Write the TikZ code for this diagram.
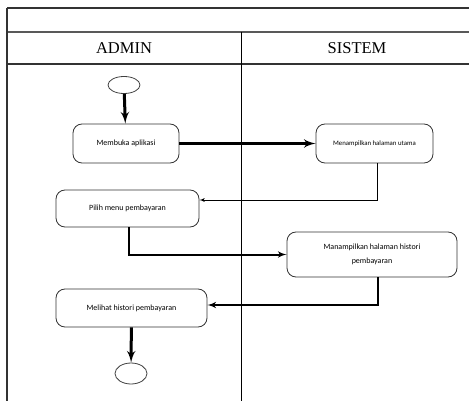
\documentclass[tikz,border=0pt]{standalone}
\usepackage{fontspec}
\setmainfont{Liberation Serif}
\newfontfamily\boxfont{Carlito}
\usetikzlibrary{arrows,shapes.geometric}

\begin{document}
\begin{tikzpicture}[x=1pt,y=-1pt]
	\tikzset{lane/.style = {draw=black!80, line width=1.2pt}}
	\tikzset{head/.style = {font=\fontsize{16.5}{18}\selectfont}}
	\tikzset{act/.style = {shape=rectangle, rounded corners=9pt, draw=black!80, line width=0.8pt, align=center, font=\boxfont\fontsize{8}{10}\selectfont}}
	\tikzset{term/.style = {shape=ellipse, draw=black!75, line width=0.8pt, inner sep=0pt}}
	\tikzset{edge/.style = {->, > = latex', line width=1pt}}
	\useasboundingbox (0,0) rectangle (469,401);
	% swimlane frame
	\draw[lane] (7,8) -- (469,8);
	\draw[lane, draw=black!65, line width=1.5pt] (7,32) -- (469,32);
	\draw[lane] (7,64) -- (469,64);
	\draw[lane] (7,8) -- (7,401);
	\draw[black, line width=0.8pt] (241,32) -- (241,401);
	\node[head] (admin) at (124,48) {ADMIN};
	\node[head] (sistem) at (357,48) {SISTEM};
	% activities
	\node[term, minimum width=32pt, minimum height=17pt] (start) at (124,85) {};
	\node[act, minimum width=106pt, minimum height=39pt] (buka) at (126,143.5) {Membuka aplikasi};
	\node[act, minimum width=117pt, minimum height=39pt, font=\boxfont\fontsize{6.8}{8}\selectfont] (utama) at (374.5,143.5) {Menampilkan halaman utama};
	\node[act, minimum width=143pt, minimum height=37pt] (pilih) at (127.5,208.5) {Pilih menu pembayaran};
	\node[act, minimum width=170pt, minimum height=45pt, font=\boxfont\fontsize{8}{14}\selectfont] (histori) at (372,254.5) {Manampilkan halaman histori\\pembayaran};
	\node[act, minimum width=151pt, minimum height=38pt] (lihat) at (131.5,308) {Melihat histori pembayaran};
	\node[term, minimum width=32pt, minimum height=21pt] (end) at (131,373.5) {};
	% flows
	\draw[edge, line width=3pt] (start) -- (buka);
	\draw[edge, line width=3pt] (buka) -- (utama);
	\draw[edge, line width=0.8pt] ([xshift=2.5pt]utama.south) |- ([yshift=8.5pt]pilih.east);
	\draw[edge, line width=2pt] ([xshift=1.5pt]pilih.south) |- (histori.west);
	\draw[edge, line width=2pt] ([xshift=6pt]histori.south) |- ([yshift=3pt]lihat.east);
	\draw[edge, line width=3pt] (lihat) -- (end);
\end{tikzpicture}
\end{document}
